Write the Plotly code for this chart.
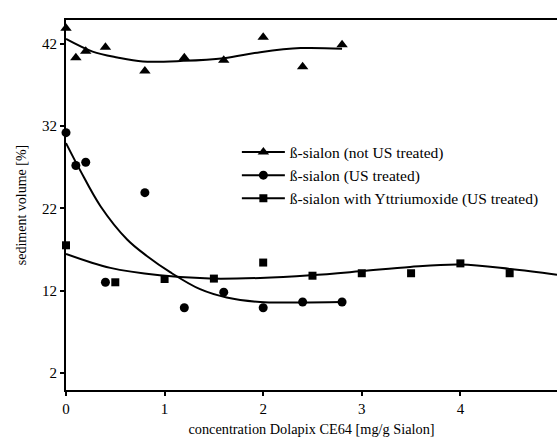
import plotly.graph_objects as go

# Measured sediment volumes [%] vs. dispersant concentration [mg/g Sialon]
x_not_us = [0.0, 0.1, 0.2, 0.4, 0.8, 1.2, 1.6, 2.0, 2.4, 2.8]
y_not_us = [43.9, 40.3, 41.1, 41.6, 38.7, 40.3, 40.0, 42.8, 39.2, 41.9]

x_us = [0.0, 0.1, 0.2, 0.4, 0.8, 1.2, 1.6, 2.0, 2.4, 2.8]
y_us = [31.2, 27.2, 27.6, 13.0, 23.9, 9.9, 11.8, 9.9, 10.6, 10.6]

x_yttria = [0.0, 0.5, 1.0, 1.5, 2.0, 2.5, 3.0, 3.5, 4.0, 4.5, 5.0]
y_yttria = [17.5, 13.0, 13.4, 13.45, 15.4, 13.8, 14.1, 14.1, 15.3, 14.1, 14.0]

# Smoothed trend curves for each series
fit_x_not_us = [0.0, 0.27, 0.52, 0.78, 1.19, 1.6, 1.97, 2.38, 2.8]
fit_y_not_us = [42.6, 41.06, 40.34, 39.85, 39.93, 40.26, 40.99, 41.48, 41.4]

fit_x_us = [0.0, 0.14, 0.35, 0.62, 0.82, 1.06, 1.36, 1.63, 1.97, 2.38, 2.8]
fit_y_us = [29.93, 26.7, 22.25, 18.2, 16.2, 14.2, 12.16, 11.15, 10.6, 10.55, 10.6]

fit_x_yttria = [0.0, 0.45, 0.95, 1.46, 1.97, 2.48, 2.98, 3.49, 4.0, 4.51, 4.98]
fit_y_yttria = [16.45, 14.75, 13.85, 13.45, 13.53, 13.85, 14.33, 14.87, 15.15, 14.62, 13.93]

legend_names = [
    "ß-sialon (not US treated)",
    "ß-sialon (US treated)",
    "ß-sialon with Yttriumoxide (US treated)",
]

x_ticks = [0, 1, 2, 3, 4]
y_ticks = [2, 12, 22, 32, 42]

SERIF = "Liberation Serif"
INK = "black"

series = [
    (x_not_us, y_not_us, fit_x_not_us, fit_y_not_us, "triangle-up", 10),
    (x_us, y_us, fit_x_us, fit_y_us, "circle", 9),
    (x_yttria, y_yttria, fit_x_yttria, fit_y_yttria, "square", 8),
]

fig = go.Figure()
for (xs, ys, fx, fy, sym, size), name in zip(series, legend_names):
    fig.add_trace(go.Scatter(
        x=fx, y=fy, mode="lines", line=dict(color=INK, width=2, shape="spline", smoothing=1.0),
        showlegend=False, hoverinfo="skip"))
    fig.add_trace(go.Scatter(
        x=xs, y=ys, mode="markers", marker=dict(symbol=sym, size=size, color=INK),
        showlegend=False, cliponaxis=False))
    # legend entry: line with marker
    fig.add_trace(go.Scatter(
        x=[None], y=[None], mode="lines+markers", name=name,
        line=dict(color=INK, width=2), marker=dict(symbol=sym, size=size, color=INK)))

fig.update_layout(
    width=557, height=441, autosize=False,
    margin=dict(l=66, r=0, t=20, b=51),
    paper_bgcolor="white", plot_bgcolor="white",
    font=dict(family=SERIF, color=INK, size=13),
    legend=dict(x=0.348, y=0.688, xanchor="left", yanchor="top",
                bgcolor="rgba(0,0,0,0)", font=dict(family=SERIF, size=15.5),
                itemwidth=43, tracegroupgap=0),
    xaxis=dict(
        range=[0, 4.98], tickvals=x_ticks, ticks="outside", ticklen=4, tickwidth=1.5,
        tickcolor=INK, showline=True, linecolor=INK, linewidth=2, mirror=True,
        showgrid=False, zeroline=False, tickfont=dict(size=15),
        title=dict(text="concentration Dolapix CE64 [mg/g Sialon]", font=dict(size=14.3), standoff=8),
    ),
    yaxis=dict(
        range=[-0.1, 44.9], tickvals=y_ticks, ticks="outside", ticklen=4, tickwidth=1.5,
        tickcolor=INK, showline=True, linecolor=INK, linewidth=2,
        showgrid=False, zeroline=False, tickfont=dict(size=15),
        title=dict(text="sediment volume [%]", font=dict(size=14), standoff=12),
    ),
)

fig.write_html("out.html")
